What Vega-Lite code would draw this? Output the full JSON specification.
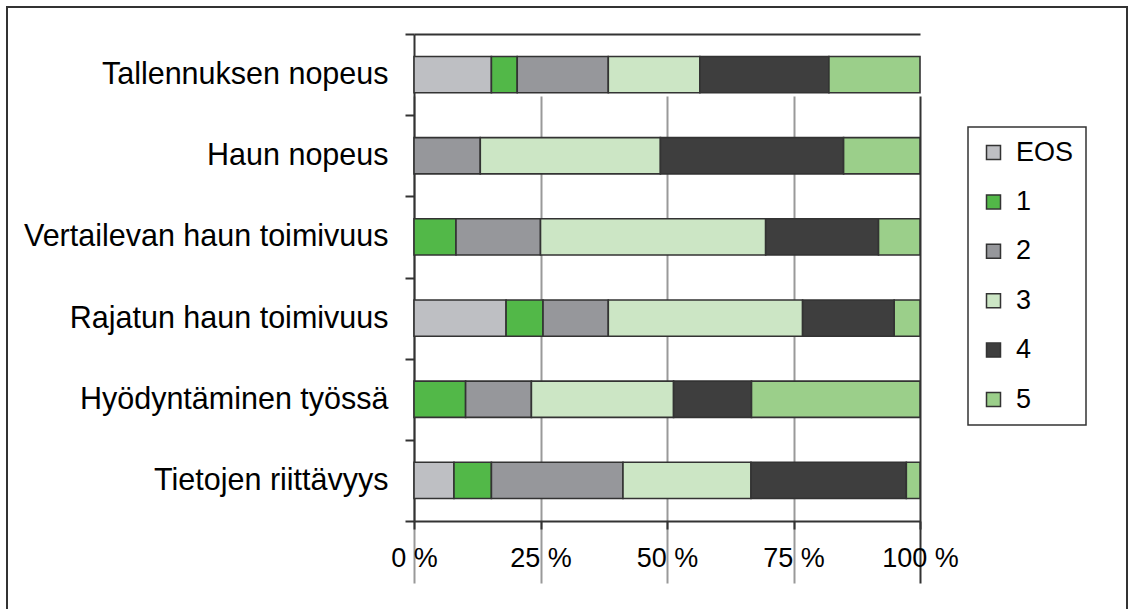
{
  "$schema": "https://vega.github.io/schema/vega-lite/v6.json",
  "width": 1120,
  "height": 603,
  "autosize": {"type": "none"},
  "padding": {"left": 7, "top": 7, "right": 3, "bottom": -1},
  "background": "white",
  "config": {
    "view": {"stroke": "#333333", "strokeWidth": 2},
    "font": "Liberation Sans",
    "legend": {"strokeColor": "#333333", "strokeWidth": 1.5, "symbolStrokeWidth": 1.5}
  },
  "data": {
    "values": [
      {"q": "Tallennuksen nopeus", "k": "EOS", "v": 15.3},
      {"q": "Tallennuksen nopeus", "k": "1", "v": 5.1},
      {"q": "Tallennuksen nopeus", "k": "2", "v": 18.0},
      {"q": "Tallennuksen nopeus", "k": "3", "v": 18.1},
      {"q": "Tallennuksen nopeus", "k": "4", "v": 25.5},
      {"q": "Tallennuksen nopeus", "k": "5", "v": 18.0},
      {"q": "Haun nopeus", "k": "2", "v": 13.1},
      {"q": "Haun nopeus", "k": "3", "v": 35.6},
      {"q": "Haun nopeus", "k": "4", "v": 36.2},
      {"q": "Haun nopeus", "k": "5", "v": 15.1},
      {"q": "Vertailevan haun toimivuus", "k": "1", "v": 8.3},
      {"q": "Vertailevan haun toimivuus", "k": "2", "v": 16.7},
      {"q": "Vertailevan haun toimivuus", "k": "3", "v": 44.5},
      {"q": "Vertailevan haun toimivuus", "k": "4", "v": 22.3},
      {"q": "Vertailevan haun toimivuus", "k": "5", "v": 8.2},
      {"q": "Rajatun haun toimivuus", "k": "EOS", "v": 18.2},
      {"q": "Rajatun haun toimivuus", "k": "1", "v": 7.3},
      {"q": "Rajatun haun toimivuus", "k": "2", "v": 12.9},
      {"q": "Rajatun haun toimivuus", "k": "3", "v": 38.4},
      {"q": "Rajatun haun toimivuus", "k": "4", "v": 18.1},
      {"q": "Rajatun haun toimivuus", "k": "5", "v": 5.1},
      {"q": "Hyödyntäminen työssä", "k": "1", "v": 10.2},
      {"q": "Hyödyntäminen työssä", "k": "2", "v": 13.0},
      {"q": "Hyödyntäminen työssä", "k": "3", "v": 28.1},
      {"q": "Hyödyntäminen työssä", "k": "4", "v": 15.4},
      {"q": "Hyödyntäminen työssä", "k": "5", "v": 33.3},
      {"q": "Tietojen riittävyys", "k": "EOS", "v": 7.9},
      {"q": "Tietojen riittävyys", "k": "1", "v": 7.4},
      {"q": "Tietojen riittävyys", "k": "2", "v": 26.0},
      {"q": "Tietojen riittävyys", "k": "3", "v": 25.3},
      {"q": "Tietojen riittävyys", "k": "4", "v": 30.7},
      {"q": "Tietojen riittävyys", "k": "5", "v": 2.7}
    ]
  },
  "transform": [
    {"calculate": "indexof(['EOS','1','2','3','4','5'], datum.k)", "as": "ord"}
  ],
  "mark": {"type": "bar", "stroke": "#333333", "strokeWidth": 1.6, "height": {"band": 0.446}},
  "encoding": {
    "y": {
      "field": "q",
      "type": "nominal",
      "sort": ["Tallennuksen nopeus", "Haun nopeus", "Vertailevan haun toimivuus", "Rajatun haun toimivuus", "Hyödyntäminen työssä", "Tietojen riittävyys"],
      "scale": {"range": [27, 514], "paddingInner": 0, "paddingOuter": 0},
      "axis": {
        "title": null,
        "orient": "left",
        "offset": -407,
        "tickBand": "extent",
        "domainColor": "#333333",
        "domainWidth": 2,
        "tickColor": "#333333",
        "tickWidth": 2,
        "tickSize": 9,
        "labelFontSize": 30.5,
        "labelColor": "#000000",
        "labelPadding": 17,
        "labelLimit": 0,
        "grid": true,
        "gridColor": "#333333",
        "gridWidth": 2,
        "gridOpacity": {"condition": {"test": "datum.extra ? true : false", "value": 1}, "value": 0}
      }
    },
    "x": {
      "field": "v",
      "type": "quantitative",
      "stack": "normalize",
      "scale": {"domain": [0, 1], "range": [407, 913], "nice": false},
      "axis": {
        "title": null,
        "offset": -89,
        "values": [0, 0.25, 0.5, 0.75, 1],
        "labelExpr": "format(datum.value * 100, 'd') + ' %'",
        "domainColor": "#333333",
        "domainWidth": 2,
        "tickColor": "#333333",
        "tickWidth": 2,
        "tickSize": 8,
        "labelFontSize": 27,
        "labelColor": "#000000",
        "labelPadding": 16,
        "labelFlush": false,
        "grid": true,
        "gridColor": {"condition": {"test": "datum.value === 1", "value": "#333333"}, "value": "#999999"},
        "gridWidth": 2
      }
    },
    "color": {
      "field": "k",
      "type": "nominal",
      "scale": {
        "domain": ["EOS", "1", "2", "3", "4", "5"],
        "range": ["#bebfc3", "#52b848", "#96979b", "#cce6c5", "#3e3e3e", "#9bcf8a"]
      },
      "legend": {
        "title": null,
        "orient": "none",
        "legendX": 961,
        "legendY": 120,
        "padding": 12,
        "symbolType": "square",
        "symbolSize": 196,
        "symbolStrokeColor": "#333333",
        "labelFontSize": 27,
        "labelColor": "#000000",
        "labelOffset": 9,
        "rowPadding": 21.4
      }
    },
    "order": {"field": "ord", "type": "quantitative"}
  }
}
